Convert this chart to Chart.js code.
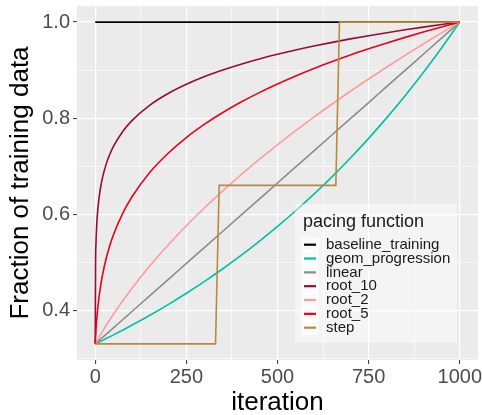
<!DOCTYPE html>
<html>
<head>
<meta charset="utf-8">
<script src="https://cdn.jsdelivr.net/npm/chart.js@4.4.1/dist/chart.umd.min.js"></script>
<style>
  html, body { margin: 0; padding: 0; background: #fff; }
  #wrap { width: 482px; height: 415px; }
</style>
</head>
<body>
<div id="wrap"><canvas id="chart"></canvas></div>
<script>
// valores
const iteration = [0, 1, 2, 3, 5, 7, 10, 15, 20, 30, 40, 50, 75, 100, 150, 200, 250, 300, 350, 400, 450, 500, 550, 600, 650, 700, 750, 800, 850, 900, 950, 1000];
const geomProgression = [0.33, 0.3304, 0.3307, 0.3311, 0.3318, 0.3326, 0.3337, 0.3355, 0.3374, 0.3412, 0.345, 0.3488, 0.3586, 0.3687, 0.3897, 0.4119, 0.4354, 0.4602, 0.4865, 0.5142, 0.5435, 0.5745, 0.6072, 0.6418, 0.6784, 0.717, 0.7579, 0.8011, 0.8468, 0.8951, 0.9461, 1.0];
const linear = [0.33, 0.3307, 0.3313, 0.332, 0.3334, 0.3347, 0.3367, 0.3401, 0.3434, 0.3501, 0.3568, 0.3635, 0.3803, 0.397, 0.4305, 0.464, 0.4975, 0.531, 0.5645, 0.598, 0.6315, 0.665, 0.6985, 0.732, 0.7655, 0.799, 0.8325, 0.866, 0.8995, 0.933, 0.9665, 1.0];
const root10 = [0.33, 0.502, 0.5376, 0.5597, 0.5889, 0.609, 0.631, 0.6572, 0.6763, 0.7043, 0.7248, 0.7412, 0.7718, 0.7944, 0.8272, 0.8513, 0.8705, 0.8866, 0.9003, 0.9124, 0.9233, 0.933, 0.942, 0.9502, 0.9578, 0.965, 0.9716, 0.9779, 0.9839, 0.9895, 0.9949, 1.0];
const root2 = [0.33, 0.3314, 0.3327, 0.334, 0.3367, 0.3393, 0.3432, 0.3497, 0.356, 0.3683, 0.3802, 0.3917, 0.4192, 0.445, 0.4925, 0.5358, 0.5759, 0.6134, 0.6487, 0.6822, 0.7141, 0.7446, 0.774, 0.8022, 0.8295, 0.856, 0.8816, 0.9065, 0.9308, 0.9544, 0.9775, 1.0];
const root5 = [0.33, 0.3453, 0.3583, 0.3696, 0.3889, 0.405, 0.4251, 0.4519, 0.4736, 0.5079, 0.5348, 0.5572, 0.6013, 0.6353, 0.6873, 0.727, 0.7597, 0.7874, 0.8118, 0.8335, 0.8532, 0.8712, 0.8879, 0.9034, 0.9178, 0.9315, 0.9443, 0.9565, 0.9682, 0.9792, 0.9898, 1.0];
const baselineX = [0, 1000];
const baselineY = [1.0, 1.0];
const stepX = [0, 330, 340, 660, 670, 1000];
const stepY = [0.33, 0.33, 0.66, 0.66, 1.0, 1.0];

const xTicks = [0, 125, 250, 375, 500, 625, 750, 875, 1000];
const xMajor = [0, 250, 500, 750, 1000];
const yTicks = [0.3, 0.4, 0.5, 0.6, 0.7, 0.8, 0.9, 1.0];
const yMajor = [0.4, 0.6, 0.8, 1.0];

const series = [
    { label: 'baseline_training', xs: baselineX, ys: baselineY, color: '#000000' },
    { label: 'geom_progression', xs: iteration, ys: geomProgression, color: '#00BFA8' },
    { label: 'linear', xs: iteration, ys: linear, color: '#8C8C8C' },
    { label: 'root_10', xs: iteration, ys: root10, color: '#980B35' },
    { label: 'root_2', xs: iteration, ys: root2, color: '#FF9C9C' },
    { label: 'root_5', xs: iteration, ys: root5, color: '#E8001C' },
    { label: 'step', xs: stepX, ys: stepY, color: '#B88A3C' }
];

const FONT = "'Liberation Sans', Arial, sans-serif";

const isMajor = (list, v) => list.some(m => Math.abs(m - v) < 1e-6);

// fondo gris del panel
const panelBg = {
    id: 'panelBg',
    beforeDraw(chart) {
        const { ctx, chartArea: a } = chart;
        ctx.save();
        ctx.fillStyle = '#EBEBEB';
        ctx.fillRect(a.left, a.top, a.right - a.left, a.bottom - a.top);
        ctx.restore();
    }
};

// leyenda dentro del panel, abajo a la derecha
const insideLegend = {
    id: 'insideLegend',
    afterDatasetsDraw(chart) {
        const { ctx, chartArea: a } = chart;
        const x0 = a.right - 183;
        const y0 = a.bottom - 156;
        ctx.save();
        ctx.fillStyle = 'rgba(255,255,255,0.45)';
        ctx.fillRect(x0, y0, 162, 139);

        ctx.fillStyle = '#1a1a1a';
        ctx.font = `18px ${FONT}`;
        ctx.textBaseline = 'middle';
        ctx.fillText('pacing function', x0 + 8, y0 + 18);

        ctx.font = `15px ${FONT}`;
        series.forEach((s, i) => {
            const cy = y0 + 40.7 + i * 13.83;
            ctx.fillStyle = 'rgba(255,255,255,0.5)';
            ctx.fillRect(x0 + 7, cy - 6.9, 16, 13.8);
            ctx.strokeStyle = '#ffffff';
            ctx.lineWidth = 1;
            ctx.strokeRect(x0 + 7, cy - 6.9, 16, 13.8);
            ctx.strokeStyle = s.color;
            ctx.lineWidth = 2.2;
            ctx.beginPath();
            ctx.moveTo(x0 + 9, cy);
            ctx.lineTo(x0 + 21, cy);
            ctx.stroke();
            ctx.fillStyle = '#1a1a1a';
            ctx.fillText(s.label, x0 + 31, cy);
        });
        ctx.restore();
    }
};

new Chart(document.getElementById('chart'), {
    type: 'line',
    data: {
        datasets: series.map((s, i) => ({
            label: s.label,
            data: s.xs.map((x, k) => ({ x: x, y: s.ys[k] })),
            borderColor: s.color,
            backgroundColor: s.color,
            borderWidth: 1.6,
            pointRadius: 0,
            fill: false,
            tension: 0,
            cubicInterpolationMode: s.label === 'step' ? 'default' : 'monotone',
            order: series.length - 1 - i
        }))
    },
    options: {
        responsive: true,
        maintainAspectRatio: false,
        animation: false,
        layout: { padding: { top: 6, right: 4, left: 0, bottom: 0 } },
        plugins: { legend: { display: false }, tooltip: { enabled: false } },
        scales: {
            x: {
                type: 'linear',
                min: -50,
                max: 1050,
                afterBuildTicks: scale => { scale.ticks = xTicks.map(v => ({ value: v })); },
                afterFit: scale => {
                    scale.height = 55;
                    scale.paddingLeft = 0;
                    scale.paddingRight = 0;
                },
                border: { display: false },
                grid: {
                    color: '#FFFFFF',
                    lineWidth: c => isMajor(xMajor, c.tick.value) ? 1.2 : 0.6,
                    tickColor: c => isMajor(xMajor, c.tick.value) ? '#333333' : 'rgba(0,0,0,0)',
                    tickLength: 4,
                    tickWidth: 1
                },
                ticks: {
                    autoSkip: false,
                    maxRotation: 0,
                    padding: 1,
                    color: '#4D4D4D',
                    font: { family: FONT, size: 20 },
                    callback: v => isMajor(xMajor, v) ? String(v) : ''
                },
                title: {
                    display: true,
                    text: 'iteration',
                    color: '#000000',
                    font: { family: FONT, size: 26, lineHeight: 0.95 },
                    padding: { top: 0, bottom: 0 }
                }
            },
            y: {
                type: 'linear',
                min: 0.2965,
                max: 1.0335,
                afterBuildTicks: scale => { scale.ticks = yTicks.map(v => ({ value: v })); },
                afterFit: scale => {
                    scale.width = 77;
                    scale.paddingTop = 0;
                    scale.paddingBottom = 0;
                },
                border: { display: false },
                grid: {
                    color: '#FFFFFF',
                    lineWidth: c => isMajor(yMajor, c.tick.value) ? 1.2 : 0.6,
                    tickColor: c => isMajor(yMajor, c.tick.value) ? '#333333' : 'rgba(0,0,0,0)',
                    tickLength: 4,
                    tickWidth: 1
                },
                ticks: {
                    autoSkip: false,
                    padding: 3,
                    color: '#4D4D4D',
                    font: { family: FONT, size: 20 },
                    callback: v => isMajor(yMajor, v) ? v.toFixed(1) : ''
                },
                title: {
                    display: true,
                    text: 'Fraction of training data',
                    color: '#000000',
                    font: { family: FONT, size: 26, lineHeight: 1.2 },
                    padding: { top: 5, bottom: 0 }
                }
            }
        }
    },
    plugins: [panelBg, insideLegend]
});
</script>
</body>
</html>
